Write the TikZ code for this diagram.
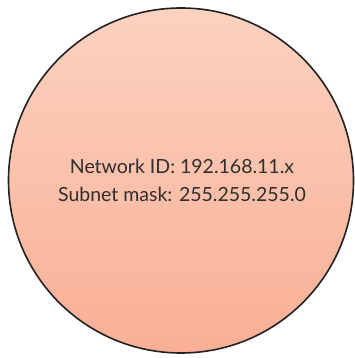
\documentclass[tikz,border=0pt]{standalone}
\usepackage{fontspec}
\setmainfont{Lato}
\definecolor{peachtop}{HTML}{FCD2C0}
\definecolor{peachbottom}{HTML}{F9AF95}
\definecolor{rimline}{HTML}{222222}
\definecolor{labeltext}{HTML}{2E2E2E}
\tikzset{
  netcircle/.style={circle, draw=rimline, line width=1.6pt,
    top color=peachtop, bottom color=peachbottom,
    minimum size=345pt, inner sep=0pt},
  netlabel/.style={align=center, text=labeltext, font=\fontsize{19.5}{28}\selectfont}
}
\begin{document}
\begin{tikzpicture}[x=1pt,y=1pt]
  \useasboundingbox (0,0) rectangle (354,358);
  \node[netcircle] (net) at (181,177.5) {};
  \node[netlabel] (info) at (182,178) {Network ID: 192.168.11.x\\Subnet mask: 255.255.255.0};
\end{tikzpicture}
\end{document}
